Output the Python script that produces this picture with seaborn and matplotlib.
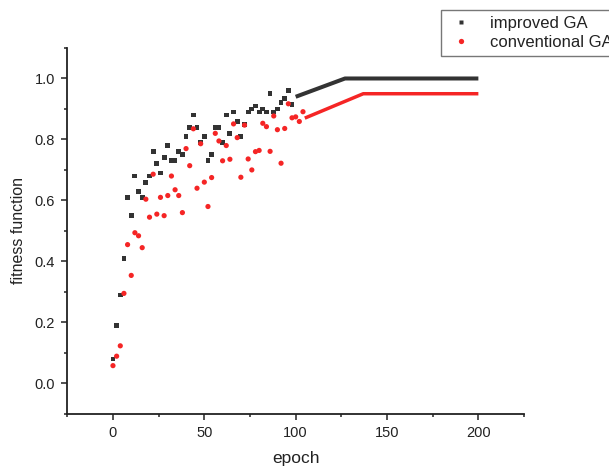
import matplotlib
matplotlib.use("Agg")
import matplotlib.pyplot as plt
from matplotlib.lines import Line2D
from matplotlib.ticker import MultipleLocator
import seaborn as sns
import pandas as pd

# ---- data ----
improved_epoch = list(range(0, 100, 2))
improved_fit = [0.08, 0.19, 0.29, 0.41, 0.61, 0.55, 0.68, 0.63, 0.61, 0.66,
                0.68, 0.76, 0.72, 0.69, 0.74, 0.78, 0.73, 0.73, 0.76, 0.75,
                0.81, 0.84, 0.88, 0.84, 0.79, 0.81, 0.73, 0.75, 0.84, 0.84,
                0.79, 0.88, 0.82, 0.89, 0.86, 0.81, 0.85, 0.89, 0.90, 0.91,
                0.89, 0.90, 0.89, 0.95, 0.89, 0.90, 0.92, 0.935, 0.96, 0.915]
conventional_epoch = list(range(0, 106, 2))
conventional_fit = [0.058, 0.089, 0.123, 0.295, 0.455, 0.354, 0.494, 0.484, 0.445, 0.604,
                    0.545, 0.686, 0.555, 0.61, 0.55, 0.616, 0.68, 0.635, 0.616, 0.56,
                    0.77, 0.714, 0.835, 0.64, 0.786, 0.66, 0.58, 0.675, 0.82, 0.795,
                    0.73, 0.78, 0.735, 0.851, 0.806, 0.676, 0.847, 0.736, 0.70, 0.76,
                    0.764, 0.853, 0.842, 0.761, 0.877, 0.832, 0.722, 0.836, 0.917, 0.871,
                    0.874, 0.859, 0.891]
# converged tails (dense points forming straight segments)
improved_tail_epoch = [100, 127, 200]
improved_tail_fit = [0.94, 1.0, 1.0]
conventional_tail_epoch = [105, 137, 200]
conventional_tail_fit = [0.87, 0.95, 0.95]

series_names = ["improved GA", "conventional GA"]
x_ticks = [0, 50, 100, 150, 200]
y_ticks = [0.0, 0.2, 0.4, 0.6, 0.8, 1.0]

BLACK = "#333333"
RED = "#f52525"

sns.set_style("ticks")
plt.rcParams["font.family"] = ["Liberation Sans", "DejaVu Sans"]

fig = plt.figure(figsize=(6.09, 4.72), dpi=100)
ax = fig.add_axes([0.1105, 0.1233, 0.750, 0.775])

df_imp = pd.DataFrame({"epoch": improved_epoch, "fit": improved_fit})
df_con = pd.DataFrame({"epoch": conventional_epoch, "fit": conventional_fit})
df_imp_t = pd.DataFrame({"epoch": improved_tail_epoch, "fit": improved_tail_fit})
df_con_t = pd.DataFrame({"epoch": conventional_tail_epoch, "fit": conventional_tail_fit})

sns.lineplot(data=df_imp_t, x="epoch", y="fit", ax=ax, color=BLACK,
             linewidth=2.9, solid_capstyle="butt")
sns.lineplot(data=df_con_t, x="epoch", y="fit", ax=ax, color=RED,
             linewidth=2.5, solid_capstyle="butt")
sns.scatterplot(data=df_imp, x="epoch", y="fit", ax=ax, marker="s", s=12,
                color=BLACK, edgecolor="none", linewidth=0)
sns.scatterplot(data=df_con, x="epoch", y="fit", ax=ax, marker="o", s=14,
                color=RED, edgecolor="none", linewidth=0)

ax.set_xlim(-25, 225)
ax.set_ylim(-0.1, 1.1)
ax.set_xticks(x_ticks)
ax.set_yticks(y_ticks)
ax.set_xticklabels([str(t) for t in x_ticks])
ax.set_yticklabels([f"{t:.1f}" for t in y_ticks])
ax.xaxis.set_minor_locator(MultipleLocator(25))
ax.yaxis.set_minor_locator(MultipleLocator(0.1))
ax.tick_params(which="major", direction="out", length=4, width=1.1,
               labelsize=10.5, colors="#222222", pad=5)
ax.tick_params(which="minor", direction="out", length=2.5, width=1.1, colors="#222222")
for s in ["top", "right"]:
    ax.spines[s].set_visible(False)
for s in ["left", "bottom"]:
    ax.spines[s].set_linewidth(1.3)
    ax.spines[s].set_color("#222222")

ax.set_xlabel("epoch", fontsize=12.5, color="#222222", labelpad=8)
ax.set_ylabel("fitness function", fontsize=11.5, color="#222222", labelpad=6)

handles = [
    Line2D([], [], linestyle="none", marker="s", markersize=3.4,
           markerfacecolor=BLACK, markeredgecolor="none"),
    Line2D([], [], linestyle="none", marker="o", markersize=3.8,
           markerfacecolor=RED, markeredgecolor="none"),
]
leg = fig.legend(handles, series_names, loc="upper left",
                 bbox_to_anchor=(441 / 609, 1 - 10 / 472),
                 fontsize=12, frameon=True, fancybox=False,
                 handlelength=1.7, handletextpad=0.9, borderpad=0.35,
                 labelspacing=0.25, borderaxespad=0)
leg.get_frame().set_edgecolor("#555555")
leg.get_frame().set_linewidth(1.0)
for t in leg.get_texts():
    t.set_color("#222222")

fig.savefig("out.png", dpi=100)
